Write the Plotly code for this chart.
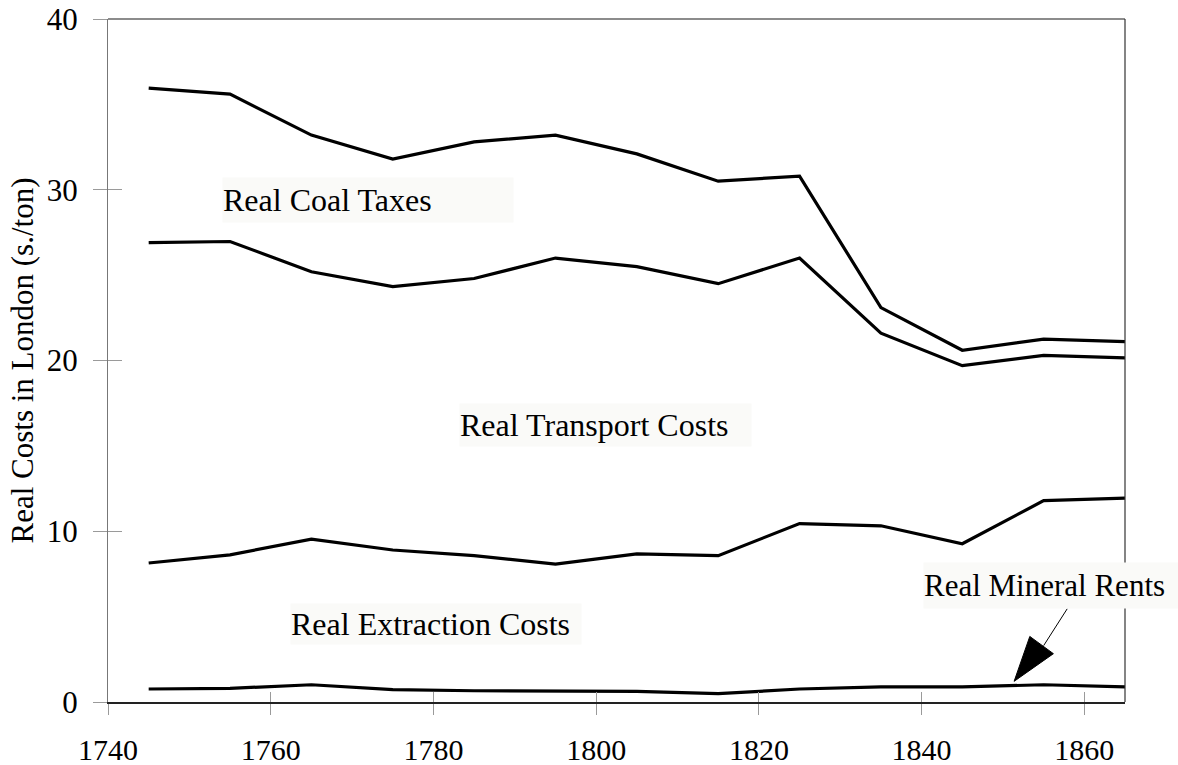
import plotly.graph_objects as go

years = [1745, 1755, 1765, 1775, 1785, 1795, 1805, 1815, 1825, 1835, 1845, 1855, 1865]
# cumulative cost lines (s./ton)
total_with_taxes = [35.95, 35.6, 33.2, 31.8, 32.8, 33.2, 32.1, 30.5, 30.8, 23.1, 20.6, 21.25, 21.1]
with_transport = [26.9, 26.97, 25.2, 24.33, 24.8, 26.0, 25.5, 24.5, 26.0, 21.6, 19.7, 20.3, 20.15]
with_extraction = [8.14, 8.62, 9.54, 8.9, 8.57, 8.08, 8.68, 8.57, 10.45, 10.32, 9.27, 11.79, 11.94]
mineral_rents = [0.76, 0.8, 1.01, 0.72, 0.66, 0.62, 0.62, 0.49, 0.76, 0.88, 0.88, 1.01, 0.88]

x_ticks = [1740, 1760, 1780, 1800, 1820, 1840, 1860]
y_ticks = [0, 10, 20, 30, 40]
y_title = "Real Costs in London (s./ton)"

FONT = "Liberation Serif"
LINE = dict(color="black", width=3.2)

fig = go.Figure()
for series in [total_with_taxes, with_transport, with_extraction, mineral_rents]:
    fig.add_trace(go.Scatter(x=years, y=series, mode="lines", line=LINE,
                             showlegend=False, hoverinfo="x+y"))
# invisible trace to carry the overlay axes (inner half of crossing ticks)
fig.add_trace(go.Scatter(x=[1800], y=[20], mode="markers", opacity=0,
                         xaxis="x2", yaxis="y2", showlegend=False, hoverinfo="skip"))

XR = [1740, 1865]
YR = [0, 40]
tickcol = "#9a9a9a"

fig.update_layout(
    template="none",
    width=1178, height=765,
    margin=dict(l=108, r=53, t=19, b=63, autoexpand=False),
    paper_bgcolor="white", plot_bgcolor="white",
    font=dict(family=FONT, size=29, color="black"),
    xaxis=dict(range=XR, tickvals=x_ticks, ticks="outside", ticklen=11, tickwidth=1,
               tickcolor=tickcol, showline=True, linecolor="#222", linewidth=1.5,
               showgrid=False, zeroline=False, ticklabelstandoff=9, automargin=False,
               tickfont=dict(family=FONT, size=30)),
    yaxis=dict(range=YR, tickvals=y_ticks, ticks="outside", ticklen=14, tickwidth=1,
               tickcolor=tickcol, showline=True, linecolor="#777", linewidth=1.2,
               showgrid=False, zeroline=False, ticklabelstandoff=9, automargin=False,
               tickfont=dict(family=FONT, size=31)),
    xaxis2=dict(range=XR, tickvals=x_ticks, ticks="inside", ticklen=10, tickwidth=1,
                tickcolor=tickcol, overlaying="x", anchor="y", side="bottom",
                showticklabels=False, showline=False, showgrid=False, zeroline=False,
                automargin=False),
    yaxis2=dict(range=YR, tickvals=y_ticks, ticks="inside", ticklen=14, tickwidth=1,
                tickcolor=tickcol, overlaying="y", anchor="x", side="left",
                showticklabels=False, showline=False, showgrid=False, zeroline=False,
                automargin=False),
)

# y-axis title
fig.add_annotation(x=-0.0836, y=0.5, xref="paper", yref="paper", text=y_title,
                   textangle=-90, showarrow=False, xanchor="center", yanchor="middle",
                   font=dict(family=FONT, size=31, color="black"))

# top and right frame lines
fig.add_shape(type="line", xref="paper", yref="paper", x0=0, x1=1, y0=1, y1=1,
              line=dict(color="#666", width=1.5))
fig.add_shape(type="line", xref="paper", yref="paper", x0=1, x1=1, y0=0, y1=1,
              line=dict(color="#333", width=1.2))

box = "#fafaf8"
labels = [
    ("Real Coal Taxes", 1754.0, 29.4, 290, 44),
    ("Real Transport Costs", 1783.1, 16.2, 291, 42),
    ("Real Extraction Costs", 1762.4, 4.55, 290, 40),
    ("Real Mineral Rents", 1840.2, 6.84, 254, 45),
]
for text, xl, yc, w, h in labels:
    fig.add_annotation(x=xl, y=yc, xref="x", yref="y", text=text, showarrow=False,
                       xanchor="left", yanchor="middle", align="left",
                       width=w, height=h, bgcolor=box, borderpad=0,
                       font=dict(family=FONT, size=31 if "Mineral" in text else 32,
                                 color="black"))

# arrow pointing to the mineral rents line
fig.add_shape(type="line", xref="x", yref="y", x0=1857.9, y0=5.46, x1=1855.0, y1=3.3,
              line=dict(color="black", width=1))
fig.add_shape(type="path", xref="x", yref="y",
              path="M 1851.37,1.21 L 1853.3,3.84 L 1856.2,2.83 Z",
              fillcolor="black", line=dict(color="black", width=1))

fig.write_html("out.html", config={"displayModeBar": False},
               post_script="document.body.style.margin='0';document.body.style.overflow='hidden';")
